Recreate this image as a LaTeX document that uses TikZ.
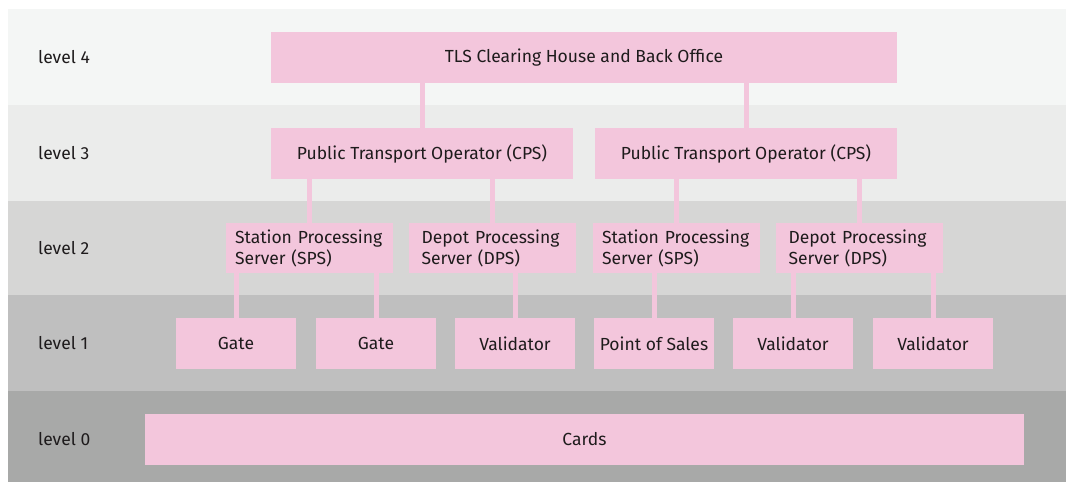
\documentclass[tikz,border=0pt]{standalone}
\usepackage{fontspec}
\setmainfont{Fira Sans}
\definecolor{pinkbox}{HTML}{F3C6DC}
\definecolor{bandA}{HTML}{F4F6F5}
\definecolor{bandB}{HTML}{EBECEB}
\definecolor{bandC}{HTML}{D6D6D5}
\definecolor{bandD}{HTML}{BFBFBF}
\definecolor{bandE}{HTML}{A8A9A8}
\definecolor{ink}{HTML}{1E1B1C}
\begin{document}
\begin{tikzpicture}[x=1pt,y=-1pt,
  every node/.style={text=ink, font=\fontsize{17.5}{21}\selectfont},
  box/.style={fill=pinkbox, inner sep=0pt, minimum height=51pt},
  boxtwo/.style={fill=pinkbox, inner ysep=0pt, inner xsep=9pt, minimum height=50pt, text width=149pt, align=left},
  boxdps/.style={boxtwo, inner xsep=12.5pt, text width=142pt},
  leaf/.style={box, minimum width=120pt},
  lvl/.style={anchor=west, inner sep=0pt},
  conn/.style={draw=pinkbox, line width=5pt}]
\useasboundingbox (0,0) rectangle (1066,482);
\fill[white] (0,0) rectangle (1066,482);
\fill[bandA] (8,9) rectangle (1066,105);
\fill[bandB] (8,105) rectangle (1066,201);
\fill[bandC] (8,201) rectangle (1066,295);
\fill[bandD] (8,295) rectangle (1066,391);
\fill[bandE] (8,391) rectangle (1066,482);
\node[lvl] (l4) at (38,57.5) {level 4};
\node[lvl] (l3) at (38,153.5) {level 3};
\node[lvl] (l2) at (38,248) {level 2};
\node[lvl] (l1) at (38,343.5) {level 1};
\node[lvl] (l0) at (38,439.5) {level 0};
\node[box, minimum width=626pt] (tls) at (584,57.5) {TLS Clearing House and Back Office};
\node[box, minimum width=302pt] (pto1) at (422,153.5) {Public Transport Operator (CPS)};
\node[box, minimum width=302pt] (pto2) at (746,153.5) {Public Transport Operator (CPS)};
\node[boxtwo] (sps1) at (309.5,248) {Station Processing\\Server (SPS)};
\node[boxdps] (dps1) at (492.5,248) {Depot Processing\\Server (DPS)};
\node[boxtwo] (sps2) at (676.5,248) {Station Processing\\Server (SPS)};
\node[boxdps] (dps2) at (859.5,248) {Depot Processing\\Server (DPS)};
\node[leaf] (g1) at (236,343.5) {Gate};
\node[leaf] (g2) at (376,343.5) {Gate};
\node[leaf] (v1) at (515,343.5) {Validator};
\node[leaf] (pos) at (654,343.5) {Point of Sales};
\node[leaf] (v2) at (793,343.5) {Validator};
\node[leaf] (v3) at (933,343.5) {Validator};
\node[box, minimum width=879pt] (cards) at (584.5,439.5) {Cards};
\draw[conn] (pto1.north) -- (pto1.north |- tls.south);
\draw[conn] (pto2.north) -- (pto2.north |- tls.south);
\draw[conn] (sps1.north) -- (sps1.north |- pto1.south);
\draw[conn] (dps1.north) -- (dps1.north |- pto1.south);
\draw[conn] (sps2.north) -- (sps2.north |- pto2.south);
\draw[conn] (dps2.north) -- (dps2.north |- pto2.south);
\draw[conn] (g1.north) -- (g1.north |- sps1.south);
\draw[conn] (g2.north) -- (g2.north |- sps1.south);
\draw[conn] (v1.north) -- (v1.north |- dps1.south);
\draw[conn] (pos.north) -- (pos.north |- sps2.south);
\draw[conn] (v2.north) -- (v2.north |- dps2.south);
\draw[conn] (v3.north) -- (v3.north |- dps2.south);
\end{tikzpicture}
\end{document}
